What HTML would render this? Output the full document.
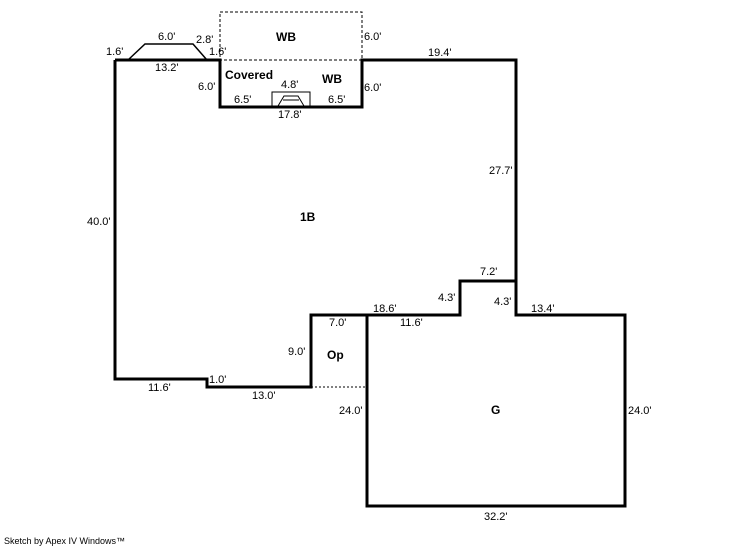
<!DOCTYPE html>
<html><head><style>
body{margin:0;background:#fff;width:746px;height:547px;overflow:hidden}
svg text{font-family:"Liberation Sans",Arial,sans-serif;font-size:11px;fill:#000}
.b{font-weight:bold;font-size:12px}
</style></head><body>
<svg width="746" height="547" xmlns="http://www.w3.org/2000/svg">
<g fill="none" stroke="#000">
<rect x="220" y="12" width="142" height="48" stroke-dasharray="3,2" stroke-width="1"/>
<polyline points="128,60 145,44 193,44 207,60" stroke-width="1.5"/>
<polyline stroke-width="3" points="115,60 220,60 220,107 362,107 362,60 516,60 516,315 625,315 625,506 367,506 367,315"/>
<polyline stroke-width="3" points="516,281 460,281 460,315 311,315 311,387 207,387 207,379 115,379 115,60"/>
<line x1="311" y1="387" x2="367" y2="387" stroke-dasharray="2,2" stroke-width="1"/>
<rect x="272" y="92" width="38" height="15" stroke-width="1"/>
<polyline points="278,106 284,96 298,96 304,106" stroke-width="1"/>
<line x1="283" y1="100" x2="299" y2="100" stroke-width="1"/>
</g>
<text x="106" y="55">1.6'</text>
<text x="158" y="40">6.0'</text>
<text x="196" y="43">2.8'</text>
<text x="209" y="55">1.6'</text>
<text x="155" y="71">13.2'</text>
<text class="b" x="276" y="41">WB</text>
<text x="364" y="40">6.0'</text>
<text x="428" y="56">19.4'</text>
<text class="b" x="225" y="79">Covered</text>
<text class="b" x="322" y="83">WB</text>
<text x="281" y="88">4.8'</text>
<text x="198" y="90">6.0'</text>
<text x="364" y="91">6.0'</text>
<text x="234" y="103">6.5'</text>
<text x="328" y="103">6.5'</text>
<text x="278" y="118">17.8'</text>
<text x="489" y="174">27.7'</text>
<text x="87" y="225">40.0'</text>
<text class="b" x="300" y="221">1B</text>
<text x="480" y="275">7.2'</text>
<text x="438" y="301">4.3'</text>
<text x="494" y="305">4.3'</text>
<text x="373" y="312">18.6'</text>
<text x="531" y="312">13.4'</text>
<text x="329" y="326">7.0'</text>
<text x="400" y="326">11.6'</text>
<text x="288" y="355">9.0'</text>
<text class="b" x="327" y="359">Op</text>
<text x="209" y="383">1.0'</text>
<text x="148" y="391">11.6'</text>
<text x="252" y="399">13.0'</text>
<text x="339" y="414">24.0'</text>
<text class="b" x="491" y="414">G</text>
<text x="628" y="414">24.0'</text>
<text x="484" y="520">32.2'</text>
<text x="4" y="544" style="font-size:9px">Sketch by Apex IV Windows™</text>
</svg>
</body></html>
